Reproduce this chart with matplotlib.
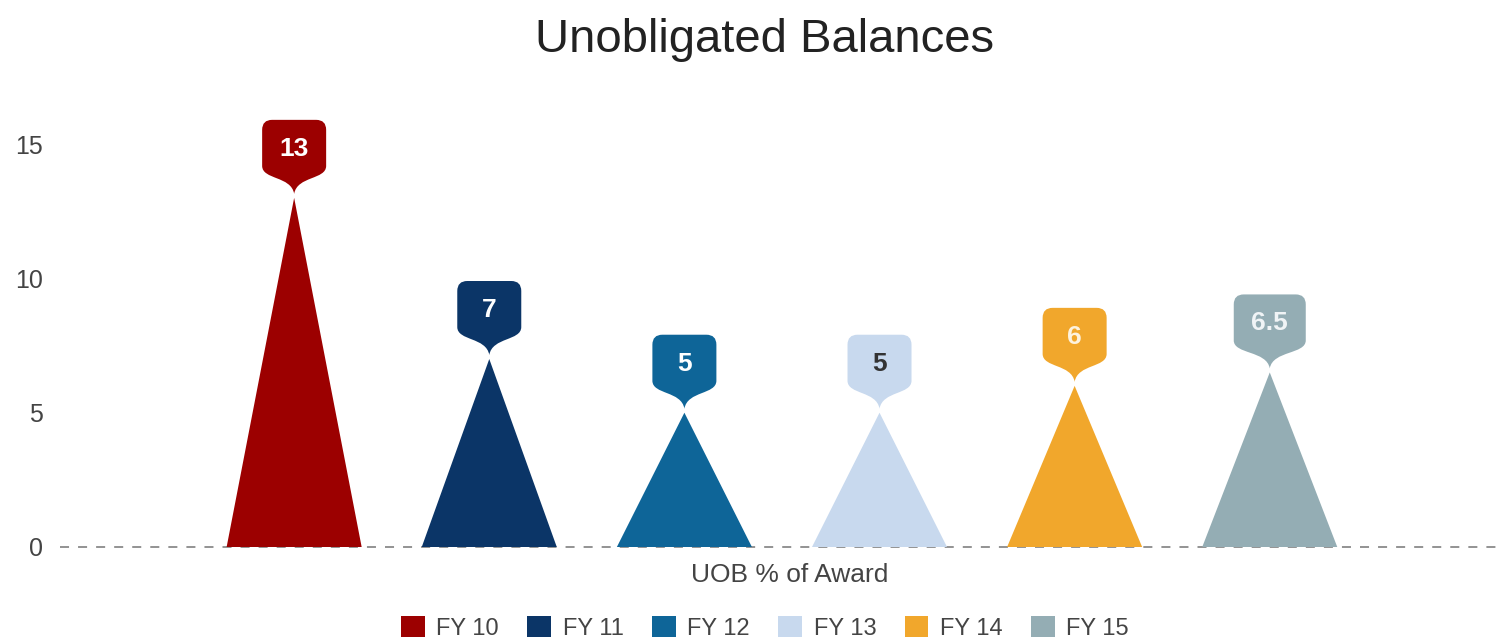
import matplotlib
matplotlib.use("Agg")
import matplotlib.pyplot as plt
import matplotlib.transforms as mtransforms
from matplotlib.path import Path
from matplotlib.patches import PathPatch, Patch

plt.rcParams['font.family'] = ['Liberation Sans', 'DejaVu Sans']

# data
categories = ["FY 10", "FY 11", "FY 12", "FY 13", "FY 14", "FY 15"]
values = [13, 7, 5, 5, 6, 6.5]
colors = ["#9c0000", "#0b3567", "#0e6598", "#c8d9ee", "#f1a72c", "#94adb4"]
label_colors = ["white", "white", "white", "#333333", "#fdf2de", "#f0f4f6"]
y_ticks = [0, 5, 10, 15]

fig = plt.figure(figsize=(15.01, 6.44), dpi=100)
ax = fig.add_axes([60 / 1501, 97 / 644, 1440 / 1501, 470 / 644])
ax.set_xlim(-1.2, 6.18)
ax.set_ylim(0, 17.5)

half_base = 0.346


def bubble_path(hw, top=78, side_bottom=32, tip=4, r=10):
    # rounded callout box with a pinched tail pointing down at (0, 0)
    verts = [
        (-hw + r, top), (hw - r, top),
        (hw, top), (hw, top - r),
        (hw, side_bottom),
        (hw, side_bottom - 14), (3, side_bottom - 10), (0, tip),
        (-3, side_bottom - 10), (-hw, side_bottom - 14), (-hw, side_bottom),
        (-hw, top - r),
        (-hw, top), (-hw + r, top),
        (-hw + r, top),
    ]
    codes = [Path.MOVETO, Path.LINETO,
             Path.CURVE3, Path.CURVE3,
             Path.LINETO,
             Path.CURVE4, Path.CURVE4, Path.CURVE4,
             Path.CURVE4, Path.CURVE4, Path.CURVE4,
             Path.LINETO,
             Path.CURVE3, Path.CURVE3,
             Path.CLOSEPOLY]
    return Path(verts, codes)


for i, (v, c, tc) in enumerate(zip(values, colors, label_colors)):
    ax.fill([i - half_base, i, i + half_base], [0, v, 0], color=c, lw=0, zorder=2)
    txt = f"{v:g}"
    hw = 32 if len(txt) < 3 else 36
    trans = mtransforms.Affine2D() + mtransforms.ScaledTranslation(i, v, ax.transData)
    ax.add_patch(PathPatch(bubble_path(hw), transform=trans, facecolor=c,
                           edgecolor="none", clip_on=False, zorder=3))
    ax.annotate(txt, xy=(i, v), xytext=(0, 49), textcoords="offset pixels",
                ha="center", va="center", fontsize=19, fontweight="bold",
                color=tc, zorder=4, annotation_clip=False)

ax.axhline(0, color="#8a8a8a", lw=1.3, dashes=(5, 5), clip_on=False, zorder=1)

for s in ax.spines.values():
    s.set_visible(False)
ax.set_xticks([])
ax.set_yticks(y_ticks)
ax.tick_params(axis="y", length=0, pad=12, labelsize=18, labelcolor="#444444")
ax.set_xlabel("UOB % of Award", fontsize=19, color="#444444")
ax.xaxis.set_label_coords(0.507, -0.035)
ax.xaxis.label.set_va("top")

fig.text(765 / 1501, 1 - 40 / 644, "Unobligated Balances", ha="center",
         va="center", fontsize=34, color="#222222")

handles = [Patch(facecolor=c, edgecolor="none") for c in colors]
fig.legend(handles, categories, loc="center", bbox_to_anchor=(765 / 1501, 16 / 644),
           ncol=6, frameon=False, fontsize=17, labelcolor="#444444",
           handlelength=1.0, handleheight=1.0, handletextpad=0.5,
           columnspacing=1.2, borderaxespad=0, borderpad=0)

fig.savefig("out.png", dpi=100)
